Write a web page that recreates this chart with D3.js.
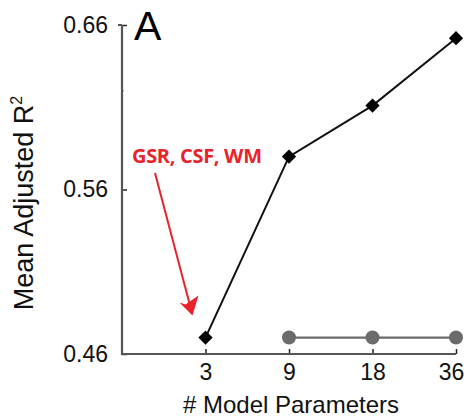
<!DOCTYPE html>
<html>
  <script src='https://d3js.org/d3.v7.min.js'></script>
  <body style="margin:0" onload='init()'>
<script>
      // ---------------------------
      // DATA
      // ---------------------------
      var params = ["3", "9", "18", "36"];
      var blackValues = [0.470, 0.580, 0.611, 0.652];   // GSR, CSF, WM series
      var grayParams = ["9", "18", "36"];
      var grayValues = [0.470, 0.470, 0.470];
      var yTicks = [0.46, 0.56, 0.66];
      var yMinorTicks = [0.62];

      function init() {
        // ---------------------------
        // CONSTANTS
        // ---------------------------
        var canvasWidth = 468;
        var canvasHeight = 419;
        var marginLeft = 122;
        var marginTop = 25;
        var plotWidth = 334;
        var plotHeight = 329;
        var myFont = "'Liberation Sans', Arial, Helvetica, sans-serif";
        var axisColour = "#555555";
        var grayColour = "#6b6b6b";
        var redColour = "#e8232b";

        var svg = d3.select("body")
          .append("svg")
          .attr("width", canvasWidth)
          .attr("height", canvasHeight)
          .style("display", "block");

        var g = svg.append("g")
          .attr("transform", "translate(" + marginLeft + "," + marginTop + ")");

        // scales
        var x = d3.scalePoint().domain(params).range([plotWidth / 4, plotWidth]);
        var y = d3.scaleLinear().domain([0.46, 0.66]).range([plotHeight, 0]);

        // y axis
        var yAxis = g.append("g")
          .call(d3.axisLeft(y).tickValues(yTicks).tickFormat(d3.format(".2f"))
                .tickSizeInner(-5).tickSizeOuter(0).tickPadding(14));
        yAxis.select(".domain").remove();
        yAxis.selectAll(".tick line").attr("stroke", "#222").attr("stroke-width", 1.5);
        yAxis.selectAll("text")
          .attr("font-family", myFont)
          .attr("font-size", 23)
          .attr("fill", "#111");

        // minor y ticks
        g.selectAll(".minor")
          .data(yMinorTicks)
          .enter()
          .append("line")
          .attr("x1", 0).attr("x2", 2)
          .attr("y1", function(d) { return y(d); })
          .attr("y2", function(d) { return y(d); })
          .attr("stroke", "#888").attr("stroke-width", 1);

        // x axis
        var xAxis = g.append("g")
          .attr("transform", "translate(0," + plotHeight + ")")
          .call(d3.axisBottom(x).tickSizeInner(-5).tickSizeOuter(0).tickPadding(10));
        xAxis.select(".domain").remove();
        xAxis.selectAll(".tick line").attr("stroke", "#222").attr("stroke-width", 1.5);
        xAxis.selectAll("text")
          .attr("font-family", myFont)
          .attr("font-size", 23)
          .attr("fill", "#111");
        // last label sits a bit left so it stays inside the frame
        xAxis.selectAll(".tick text")
          .filter(function(d) { return d === "36"; })
          .attr("dx", -5);

        // axis lines
        g.append("path")
          .attr("d", "M" + 0 + "," + 0 + "V" + plotHeight + "H" + plotWidth)
          .attr("fill", "none")
          .attr("stroke", axisColour)
          .attr("stroke-width", 2.2);
        g.append("line")
          .attr("x1", 0).attr("x2", -4)
          .attr("y1", 0).attr("y2", 0)
          .attr("stroke", axisColour).attr("stroke-width", 2);

        // gray series
        var grayLine = d3.line()
          .x(function(d, i) { return x(grayParams[i]); })
          .y(function(d) { return y(d); });
        g.append("path")
          .datum(grayValues)
          .attr("d", grayLine)
          .attr("fill", "none")
          .attr("stroke", grayColour)
          .attr("stroke-width", 2.2);
        g.selectAll(".gray-pt")
          .data(grayValues)
          .enter()
          .append("circle")
          .attr("cx", function(d, i) { return x(grayParams[i]); })
          .attr("cy", function(d) { return y(d); })
          .attr("r", 7)
          .attr("fill", grayColour);

        // black series
        var blackLine = d3.line()
          .x(function(d, i) { return x(params[i]); })
          .y(function(d) { return y(d); });
        g.append("path")
          .datum(blackValues)
          .attr("d", blackLine)
          .attr("fill", "none")
          .attr("stroke", "#111")
          .attr("stroke-width", 2);
        g.selectAll(".black-pt")
          .data(blackValues)
          .enter()
          .append("path")
          .attr("d", d3.symbol().type(d3.symbolDiamond2).size(130))
          .attr("transform", function(d, i) { return "translate(" + x(params[i]) + "," + y(d) + ")"; })
          .attr("fill", "#000");

        // panel letter
        g.append("text")
          .attr("x", 12)
          .attr("y", 15)
          .attr("font-family", myFont)
          .attr("font-size", 41)
          .attr("fill", "#000")
          .text("A");

        // annotation
        var tipX = x(params[0]) - 13;
        var tipY = y(blackValues[0]) - 22;
        g.append("text")
          .attr("x", 10)
          .attr("y", 138)
          .attr("font-family", "'Open Sans', sans-serif")
          .attr("font-weight", "bold")
          .attr("font-size", 20)
          .attr("textLength", 130)
          .attr("fill", redColour)
          .text("GSR, CSF, WM");
        g.append("line")
          .attr("x1", 33).attr("y1", 148)
          .attr("x2", tipX - 3).attr("y2", tipY - 12)
          .attr("stroke", redColour)
          .attr("stroke-width", 2);
        g.append("path")
          .attr("d", "M" + tipX + "," + tipY + "L" + (tipX - 13) + "," + (tipY - 13) +
                     "L" + (tipX - 7) + "," + (tipY - 11) + "L" + (tipX + 6) + "," + (tipY - 20) + "Z")
          .attr("fill", redColour);

        // axis titles
        svg.append("text")
          .attr("text-anchor", "middle")
          .attr("x", 291)
          .attr("y", 413)
          .attr("font-family", myFont)
          .attr("font-size", 24)
          .attr("fill", "#111")
          .text("# Model Parameters");

        var yt = svg.append("text")
          .attr("text-anchor", "middle")
          .attr("transform", "translate(33,203) rotate(-90)")
          .attr("font-family", myFont)
          .attr("font-size", 27)
          .attr("fill", "#111");
        yt.append("tspan").text("Mean Adjusted R");
        yt.append("tspan").attr("font-size", 16).attr("dy", -11).text("2");
      }
    </script>
  </body>
</html>
